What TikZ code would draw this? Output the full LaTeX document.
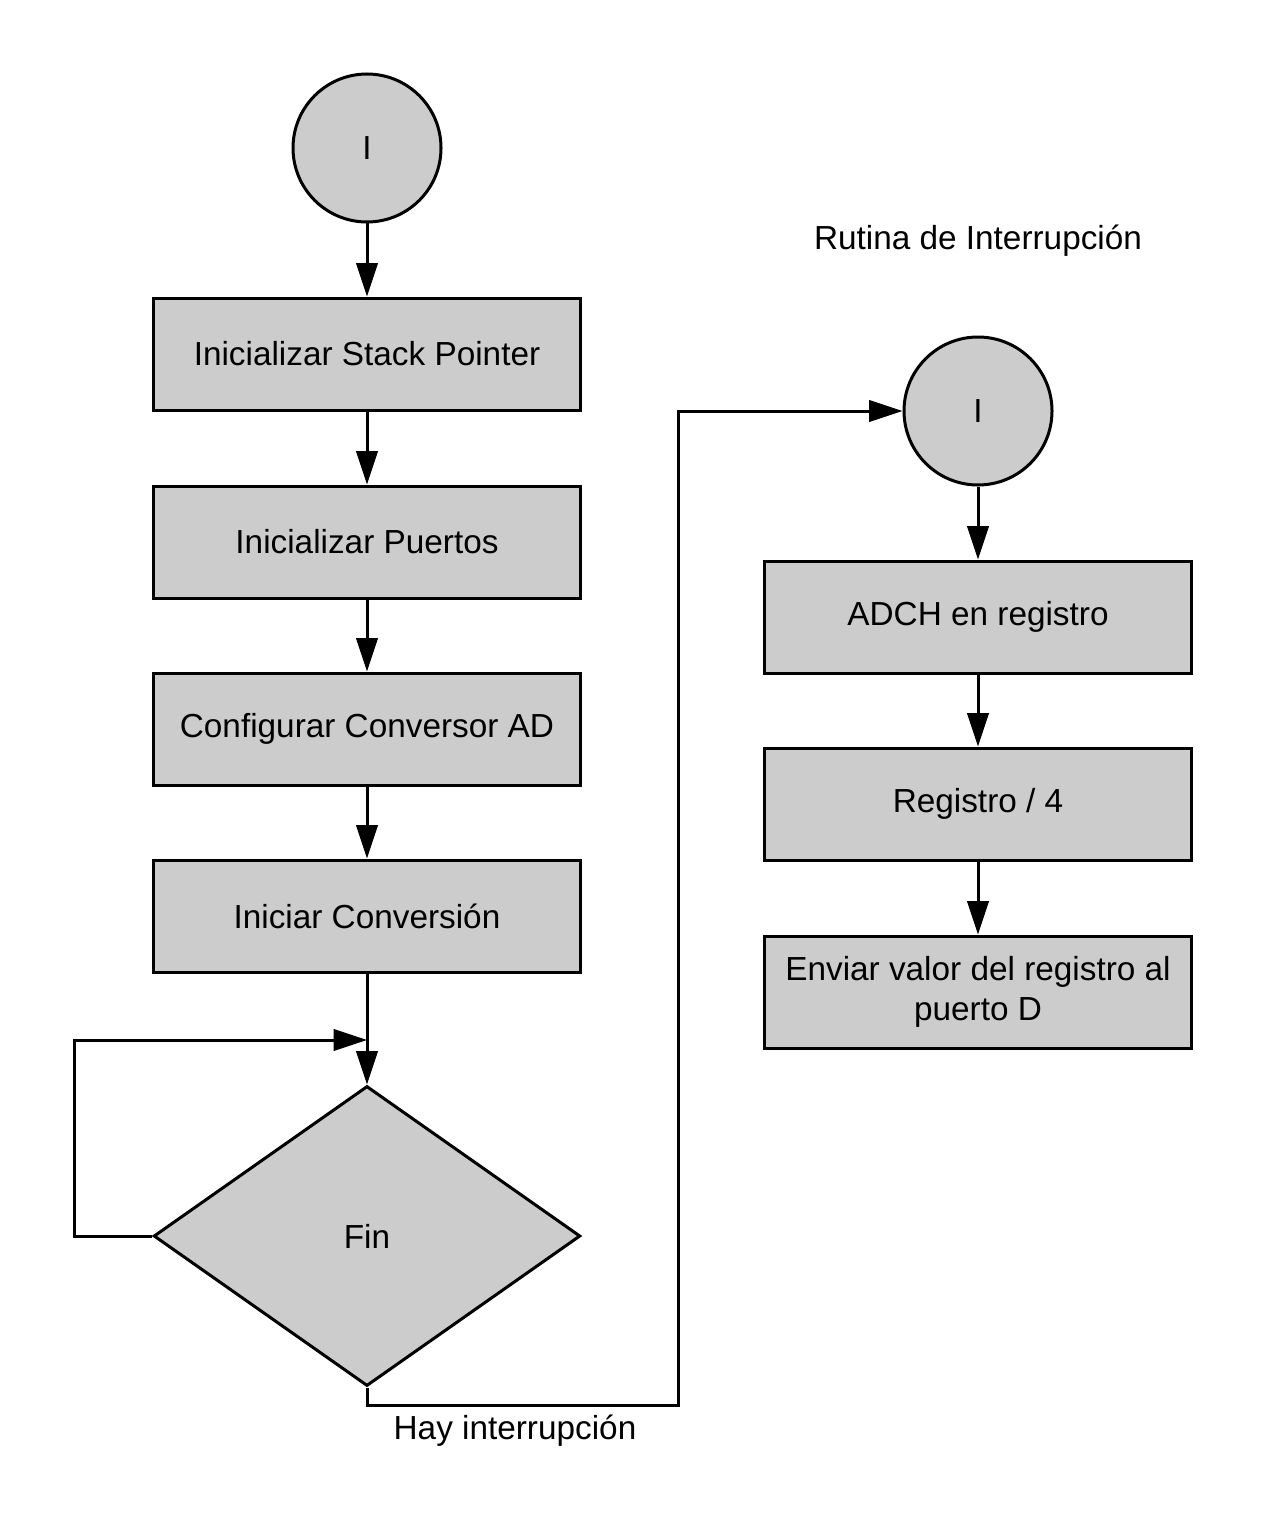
\documentclass[tikz,border=0pt]{standalone}
\usepackage{fontspec}
\setmainfont{Liberation Sans}
\usetikzlibrary{shapes.geometric,arrows.meta}
\definecolor{gris}{HTML}{CCCCCC}

\begin{document}
\begin{tikzpicture}[x=0.75pt,y=0.75pt,yscale=-1,xscale=1,
    font=\fontsize{25}{30}\selectfont,
    conector/.style={draw,circle,fill=gris,line width=2.25pt,minimum size=111pt,inner sep=0pt},
    proceso/.style={draw,rectangle,fill=gris,line width=2.25pt,minimum width=320pt,minimum height=84pt,inner sep=0pt,align=center},
    decision/.style={draw,diamond,fill=gris,line width=2.25pt,minimum width=320pt,minimum height=225pt,inner sep=0pt},
    flecha/.style={line width=2.25pt,-{Triangle[length=25pt,width=16pt]}}]
\useasboundingbox (0,0) rectangle (1279,1530);

\node [conector] (ini) at (367,148) {I};
\node [proceso] (stack) at (367,354) {Inicializar Stack Pointer};
\node [proceso] (puertos) at (367,542) {Inicializar Puertos};
\node [proceso] (config) at (367,729) {Configurar Conversor AD};
\node [proceso] (conv) at (367,916) {Iniciar Conversión};
\node [decision] (fin) at (367,1236) {Fin};

\node [conector] (rut) at (978,411) {I};
\node [proceso] (adch) at (978,617) {ADCH en registro};
\node [proceso] (div) at (978,804) {Registro / 4};
\node [proceso] (envio) at (978,992) {Enviar valor del registro al\\puerto D};

\node (titulo) at (978,241) {Rutina de Interrupción};
\node (hay) at (515,1431) {Hay interrupción};

\coordinate (lazo) at (367,1040);
\coordinate (giro) at (678,1405);

\draw [flecha] (ini) -- (stack);
\draw [flecha] (stack) -- (puertos);
\draw [flecha] (puertos) -- (config);
\draw [flecha] (config) -- (conv);
\draw [flecha] (conv) -- (fin);
\draw [flecha] (fin.west) -- ++(-78,0) |- (lazo);
\draw [flecha] (fin.south) |- (giro) |- (rut.west);

\draw [flecha] (rut) -- (adch);
\draw [flecha] (adch) -- (div);
\draw [flecha] (div) -- (envio);
\end{tikzpicture}
\end{document}
